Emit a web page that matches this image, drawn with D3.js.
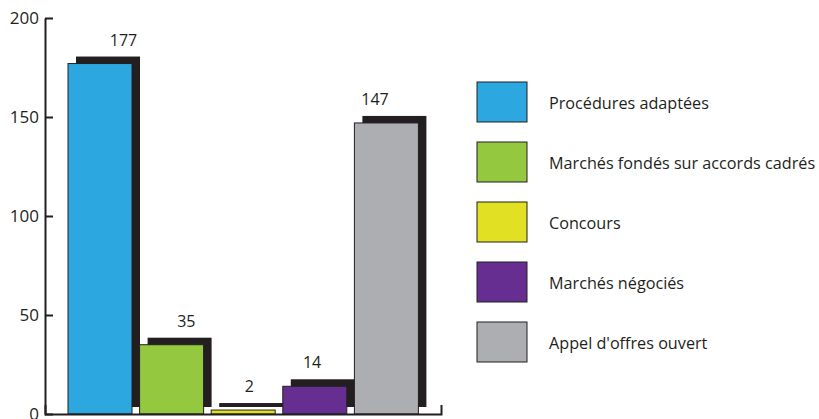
<!DOCTYPE html>
<html>
<head>
<meta charset="utf-8">
<script src="https://cdn.jsdelivr.net/npm/d3@7"></script>
<style>
  html, body { margin: 0; padding: 0; background: #ffffff; }
  svg { display: block; }
  text { font-family: "Open Sans", "Noto Sans", sans-serif; fill: #231f20; }
</style>
</head>
<body>
<svg id="chart" width="819" height="419"></svg>
<script>
const categories = [
  "Procédures adaptées",
  "Marchés fondés sur accords cadrés",
  "Concours",
  "Marchés négociés",
  "Appel d'offres ouvert"
];
const values = [177, 35, 2, 14, 147];
const colors = ["#2ca7df", "#93c83f", "#e1e022", "#662e91", "#adaeb1"];
const yTicks = [0, 50, 100, 150, 200];

const svg = d3.select("#chart");
const ink = "#231f20";

const y = d3.scaleLinear().domain([0, 200]).range([414, 18]);
const x = d3.scaleBand().domain(categories).range([68, 418.4]).paddingInner(0.106).paddingOuter(0);
const labelX = d3.scalePoint().domain(categories).range([123.5, 375]);
const shadowDx = 8, shadowDy = -7;

const data = categories.map((c, i) => ({ c, v: values[i], color: colors[i] }));

// shadows
svg.append("g").selectAll("rect").data(data).join("rect")
  .attr("x", d => x(d.c) + shadowDx)
  .attr("y", d => y(d.v) + shadowDy)
  .attr("width", x.bandwidth())
  .attr("height", d => y(0) - y(d.v))
  .attr("fill", ink);

// bars
svg.append("g").selectAll("rect").data(data).join("rect")
  .attr("x", d => x(d.c))
  .attr("y", d => y(d.v))
  .attr("width", x.bandwidth())
  .attr("height", d => y(0) - y(d.v))
  .attr("fill", d => d.color)
  .attr("stroke", ink)
  .attr("stroke-width", 1);

// value labels
svg.append("g").selectAll("text").data(data).join("text")
  .attr("x", d => labelX(d.c))
  .attr("y", d => y(d.v) + shadowDy - 11)
  .attr("text-anchor", "middle")
  .attr("font-size", 16)
  .text(d => d.v);

// y axis
const yAxis = svg.append("g")
  .attr("transform", "translate(45,0)")
  .call(d3.axisLeft(y).tickValues(yTicks).tickSizeInner(-8).tickSizeOuter(0).tickPadding(6));
yAxis.select(".domain").attr("stroke", ink).attr("stroke-width", 2);
yAxis.selectAll(".tick line").attr("stroke", ink).attr("stroke-width", 2);
yAxis.selectAll(".tick text").attr("font-size", 17).attr("fill", ink)
  .style("font-family", "'Open Sans', sans-serif");

// x axis baseline with end tick
const xAxis = svg.append("g")
  .attr("transform", `translate(0,${y(0)})`)
  .call(d3.axisBottom(d3.scaleLinear().domain([0, 1]).range([45, 441])).tickValues([]).tickSizeOuter(-9));
xAxis.select(".domain").attr("stroke", ink).attr("stroke-width", 2).attr("fill", "none");

// legend
const legend = svg.append("g").selectAll("g").data(data).join("g")
  .attr("transform", (d, i) => `translate(477,${82 + i * 60})`);
legend.append("rect")
  .attr("width", 50).attr("height", 40)
  .attr("fill", d => d.color)
  .attr("stroke", ink).attr("stroke-width", 1);
legend.append("text")
  .attr("x", 72).attr("y", 27)
  .attr("font-size", 16.2)
  .text(d => d.c);
</script>
</body>
</html>
